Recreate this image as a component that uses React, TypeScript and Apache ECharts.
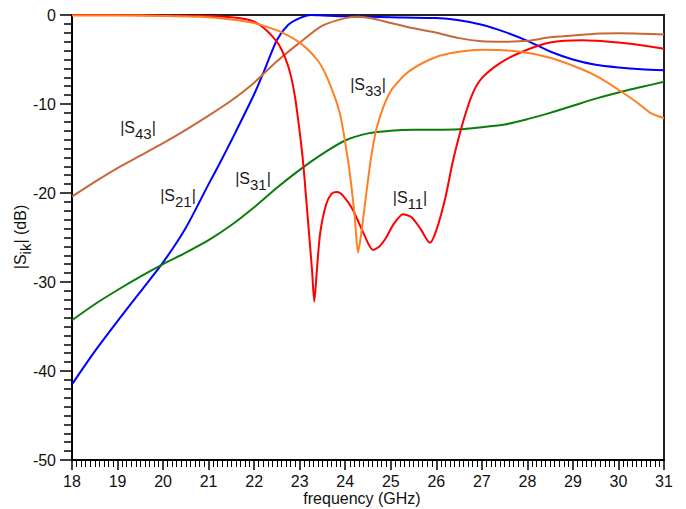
import React, { useEffect, useRef } from "react";
import * as echarts from "echarts";

const xTickValues = [18, 19, 20, 21, 22, 23, 24, 25, 26, 27, 28, 29, 30, 31];
const yTickValues = [0, -10, -20, -30, -40, -50];

const s21Freq = [18, 18.5, 19, 19.5, 20, 20.5, 21, 21.25, 21.5, 22, 22.25, 22.5, 22.75, 23, 23.25, 23.5, 24, 25, 26, 26.5, 27, 27.5, 28, 28.5, 29, 29.5, 30, 30.5, 31];
const s21Db = [-41.5, -37.8, -34.4, -31.1, -27.8, -23.9, -19.0, -16.6, -14.1, -8.9, -5.9, -2.8, -1.1, -0.35, 0, -0.05, -0.15, -0.25, -0.35, -0.6, -1.1, -1.9, -2.9, -4.1, -5.0, -5.6, -5.9, -6.1, -6.2];

const s31Freq = [18, 18.5, 19, 19.5, 20, 20.5, 21, 21.5, 22, 22.5, 23, 23.5, 24, 24.5, 25, 25.5, 26, 26.5, 27, 27.5, 28, 28.5, 29, 29.5, 30, 30.5, 31];
const s31Db = [-34.3, -32.5, -30.9, -29.4, -28.0, -26.7, -25.3, -23.6, -21.6, -19.4, -17.4, -15.6, -14.1, -13.3, -13.0, -12.9, -12.9, -12.85, -12.6, -12.3, -11.7, -11.0, -10.2, -9.4, -8.7, -8.1, -7.5];

const s43Freq = [18, 18.5, 19, 19.5, 20, 20.5, 21, 21.5, 22, 22.5, 23, 23.5, 24, 24.3, 24.6, 25, 25.5, 26, 26.5, 27, 27.5, 28, 28.5, 29, 29.5, 30, 30.5, 31];
const s43Db = [-20.4, -18.75, -17.2, -15.8, -14.4, -12.9, -11.3, -9.6, -7.6, -5.2, -3.1, -1.2, -0.35, -0.2, -0.4, -0.9, -1.5, -2.0, -2.6, -2.95, -3.0, -2.9, -2.5, -2.3, -2.1, -2.05, -2.1, -2.2];

const s11Freq = [18, 19, 20, 21, 21.5, 21.8, 22, 22.2, 22.4, 22.55, 22.68, 22.8, 22.9, 22.98, 23.05, 23.1, 23.18, 23.27, 23.32, 23.38, 23.45, 23.58, 23.7, 23.82, 23.95, 24.17, 24.4, 24.61, 24.75, 24.9, 25.05, 25.27, 25.45, 25.65, 25.86, 26.0, 26.2, 26.37, 26.6, 26.8, 27.0, 27.4, 27.9, 28.5, 29.2, 30, 30.5, 31];
const s11Db = [0, 0, -0.05, -0.12, -0.25, -0.45, -0.75, -1.4, -2.4, -3.4, -4.8, -6.7, -9.3, -12.3, -15.3, -18.0, -23.0, -28.6, -32.2, -28.5, -24.5, -21.3, -20.1, -19.9, -20.3, -21.9, -24.5, -26.4, -26.0, -25.0, -23.6, -22.4, -22.7, -24.0, -25.6, -24.2, -20.5, -16.3, -11.8, -8.8, -7.1, -5.4, -4.1, -3.1, -2.85, -3.1, -3.4, -3.8];

const s33Freq = [18, 19, 20, 20.8, 21.5, 22.0, 22.35, 22.63, 23.0, 23.38, 23.6, 23.88, 24.06, 24.13, 24.21, 24.28, 24.34, 24.41, 24.56, 24.7, 24.98, 25.36, 25.86, 26.3, 27.0, 27.8, 28.5, 29.2, 29.6, 30.0, 30.4, 30.7, 31];
const s33Db = [-0.05, -0.05, -0.1, -0.2, -0.5, -0.9, -1.45, -2.0, -3.1, -5.0, -7.0, -11, -16.3, -19.0, -22.7, -26.7, -25.0, -22.2, -16.3, -12.5, -8.7, -6.5, -5.0, -4.3, -3.9, -4.1, -4.8, -6.1, -7.1, -8.4, -9.8, -11, -11.6];

const seriesNames = ["|S21|", "|S31|", "|S43|", "|S11|", "|S33|"];
const seriesSubs = ["21", "31", "43", "11", "33"];
const seriesColors = ["#0000ff", "#0b7d0b", "#c8683a", "#ff0000", "#ff7f22"];

const FONT = '"Liberation Sans", Arial, sans-serif';

export default function App() {
  const ref = useRef<HTMLDivElement>(null);
  useEffect(() => {
    const chart = echarts.init(ref.current!, null, { renderer: "svg" });
    const pair = (f: number[], v: number[]) => f.map((x, i) => [x, v[i]]);
    const datasets = [
      pair(s21Freq, s21Db),
      pair(s31Freq, s31Db),
      pair(s43Freq, s43Db),
      pair(s11Freq, s11Db),
      pair(s33Freq, s33Db),
    ];
    const labelPos: Record<string, [number, number]> = {
      "43": [138, 130],
      "21": [178, 198],
      "31": [253, 181],
      "33": [368, 87],
      "11": [410, 200],
    };
    const richStyle = {
      a: { fontSize: 16, fontFamily: FONT, fill: "#1a1a1a", padding: [0, 0, 6, 0] },
      sub: { fontSize: 15, fontFamily: FONT, fill: "#1a1a1a", padding: [6, 0, 0, 0] },
    };
    const labelGraphics = seriesSubs.map((sub) => ({
      type: "text",
      x: labelPos[sub][0],
      y: labelPos[sub][1],
      style: {
        text: `{a||S}{sub|${sub}}{a||}`,
        rich: richStyle,
        align: "center",
        verticalAlign: "middle",
      },
      z: 10,
    }));
    chart.setOption({
      animation: false,
      backgroundColor: "#ffffff",
      grid: {
        left: 72,
        right: 22,
        top: 15,
        bottom: 49,
        show: true,
        borderColor: "#222",
        borderWidth: 2,
        backgroundColor: "transparent",
      },
      xAxis: {
        type: "value",
        min: xTickValues[0],
        max: xTickValues[xTickValues.length - 1],
        interval: 1,
        position: "bottom",
        axisLine: { show: true, onZero: false, lineStyle: { color: "#000", width: 2 } },
        axisTick: { show: true, inside: false, length: 10, lineStyle: { color: "#000", width: 1.5 } },
        minorTick: { show: true, splitNumber: 10, length: 7, lineStyle: { color: "#000", width: 1 } },
        splitLine: { show: false },
        minorSplitLine: { show: false },
        axisLabel: { color: "#111", fontSize: 16, fontFamily: FONT, margin: 13 },
      },
      yAxis: {
        type: "value",
        min: yTickValues[yTickValues.length - 1],
        max: yTickValues[0],
        interval: 10,
        position: "left",
        axisLine: { show: true, onZero: false, lineStyle: { color: "#000", width: 2 } },
        axisTick: { show: true, inside: false, length: 12, lineStyle: { color: "#000", width: 1.5 } },
        minorTick: { show: true, splitNumber: 10, length: 8, lineStyle: { color: "#000", width: 1.5 } },
        splitLine: { show: false },
        minorSplitLine: { show: false },
        axisLabel: { color: "#111", fontSize: 16, fontFamily: FONT, margin: 16 },
      },
      series: datasets.map((d, i) => ({
        name: seriesNames[i],
        type: "line",
        data: d,
        showSymbol: false,
        smooth: 0.25,
        lineStyle: { color: seriesColors[i], width: 2 },
        itemStyle: { color: seriesColors[i] },
        clip: true,
      })),
      graphic: [
        ...labelGraphics,
        {
          type: "text",
          x: 362,
          y: 498,
          style: {
            text: "frequency (GHz)",
            font: `16px ${FONT}`,
            fill: "#111",
            align: "center",
            verticalAlign: "middle",
          },
        },
        {
          type: "text",
          x: 23,
          y: 237,
          rotation: Math.PI / 2,
          style: {
            text: "{a||S}{sub|ik}{a|| (dB)}",
            rich: {
              a: { fontSize: 16, fontFamily: FONT, fill: "#111", padding: [0, 0, 5, 0] },
              sub: { fontSize: 15, fontFamily: FONT, fill: "#111", padding: [5, 0, 0, 0] },
            },
            align: "center",
            verticalAlign: "middle",
          },
        },
      ],
    });
    return () => chart.dispose();
  }, []);
  return (
    <div
      ref={ref}
      style={{ position: "fixed", left: 0, top: 0, width: 686, height: 509, background: "#fff" }}
    />
  );
}
